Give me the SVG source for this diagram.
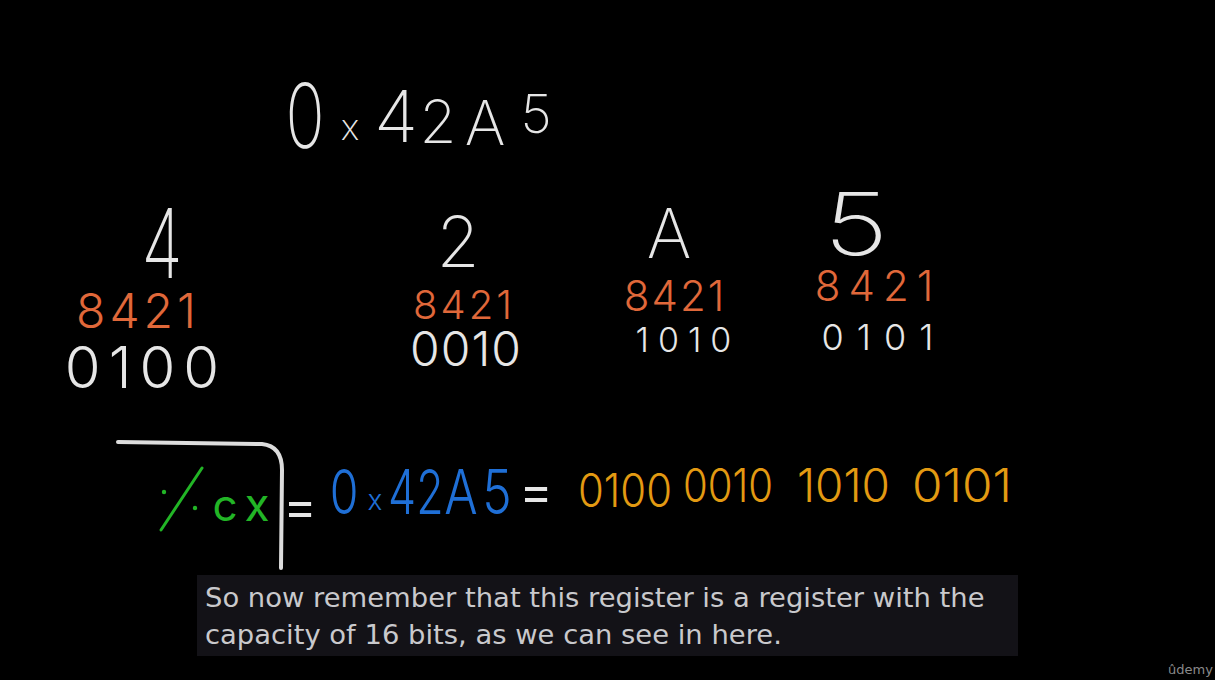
<svg xmlns="http://www.w3.org/2000/svg" width="1215" height="680" viewBox="0 0 1215 680">
<style>
.hw{font-family:Inter,Roboto,"DejaVu Sans",sans-serif;font-weight:200;text-anchor:middle}
.w{fill:#e6e6e6}
.o{fill:#e0683a;font-weight:300}
.b{fill:#e6e6e6;font-weight:300}
.g{fill:#22b526;font-weight:400}
.bl{fill:#1f6fd6;font-weight:300}
.y{fill:#e39a12;font-weight:300;text-anchor:start;font-size:46px}
.eq{fill:#e6e6e6;font-weight:400;font-size:50px}
.cap{font-family:"DejaVu Sans",sans-serif;font-size:27.4px;fill:#c9c9cc}
</style>
<rect width="1215" height="680" fill="#000"/>
<g id="title">
<text class="hw w" x="305" y="148" font-size="90" transform="translate(305 0) scale(0.72 1) translate(-305 0)">0</text>
<text class="hw w" x="350" y="140" font-size="36">x</text>
<text class="hw w" x="396" y="142" font-size="72">4</text>
<text class="hw w" x="438" y="143" font-size="60">2</text>
<text class="hw w" x="485" y="145" font-size="62">A</text>
<text class="hw w" x="536" y="133" font-size="54">5</text>
</g>
<g id="nib4">
<text class="hw w" x="162" y="278" font-size="96" transform="translate(162 0) scale(0.7 1) translate(-162 0)">4</text>
<text class="hw o" x="138" y="328" font-size="48" letter-spacing="4">8421</text>
<text class="hw b" x="146" y="388" font-size="58" letter-spacing="8">0100</text>
</g>
<g id="nib2">
<text class="hw w" x="458" y="267" font-size="70">2</text>
<text class="hw o" x="464" y="319" font-size="40" letter-spacing="3">8421</text>
<text class="hw b" x="466" y="366" font-size="48" letter-spacing="1">0010</text>
</g>
<g id="nibA">
<text class="hw w" x="669" y="258" font-size="68">A</text>
<text class="hw o" x="675" y="311" font-size="42" letter-spacing="2">8421</text>
<text class="hw b" x="688" y="352" font-size="34" letter-spacing="9">1010</text>
</g>
<g id="nib5">
<text class="hw w" x="856" y="255" font-size="86" transform="translate(856 0) scale(1.3 1) translate(-856 0)">5</text>
<text class="hw o" x="878" y="301" font-size="42" letter-spacing="8">8421</text>
<text class="hw b" x="884" y="350" font-size="36" letter-spacing="13">0101</text>
</g>
<g id="bracket">
<path d="M118 442 L262 444 Q282 446 282 470 L281 568" fill="none" stroke="#dcdcdc" stroke-width="4" stroke-linecap="round"/>
</g>
<g id="cx">
<line x1="161" y1="530" x2="202" y2="468" stroke="#22b526" stroke-width="3" stroke-linecap="round"/>
<circle cx="164" cy="492" r="2.2" fill="#22b526"/>
<circle cx="195" cy="508" r="2.2" fill="#22b526"/>
<text class="hw g" x="225" y="521" font-size="44">c</text>
<text class="hw g" x="257" y="521" font-size="46">x</text>
</g>
<g id="eq1"><text class="hw eq" x="300" y="524">=</text></g>
<g id="hexblue">
<text class="hw bl" x="344" y="514" font-size="62" transform="translate(344 0) scale(0.75 1) translate(-344 0)">0</text>
<text class="hw bl" x="375" y="510" font-size="28">x</text>
<text class="hw bl" x="402" y="514" font-size="62" transform="translate(402 0) scale(0.72 1) translate(-402 0)">4</text>
<text class="hw bl" x="430" y="514" font-size="62" transform="translate(430 0) scale(0.72 1) translate(-430 0)">2</text>
<text class="hw bl" x="461" y="514" font-size="62" transform="translate(461 0) scale(0.8 1) translate(-461 0)">A</text>
<text class="hw bl" x="497" y="514" font-size="62" transform="translate(497 0) scale(0.8 1) translate(-497 0)">5</text>
</g>
<g id="eq2"><text class="hw eq" x="536" y="509">=</text></g>
<g id="bits">
<text class="hw y" x="578" y="507" textLength="94" lengthAdjust="spacingAndGlyphs">0100</text>
<text class="hw y" x="683" y="502" textLength="90" lengthAdjust="spacingAndGlyphs">0010</text>
<text class="hw y" x="797" y="502" textLength="93" lengthAdjust="spacingAndGlyphs">1010</text>
<text class="hw y" x="912" y="502" textLength="100" lengthAdjust="spacingAndGlyphs">0101</text>
</g>
<g id="caption">
<rect x="197" y="575" width="821" height="81" fill="#131217"/>
<text class="cap" x="205" y="607">So now remember that this register is a register with the</text>
<text class="cap" x="205" y="644">capacity of 16 bits, as we can see in here.</text>
</g>
<g id="logo"><text x="1168" y="674" font-family="'DejaVu Sans',sans-serif" font-size="13" fill="#8a8a8a">ûdemy</text></g>
</svg>
